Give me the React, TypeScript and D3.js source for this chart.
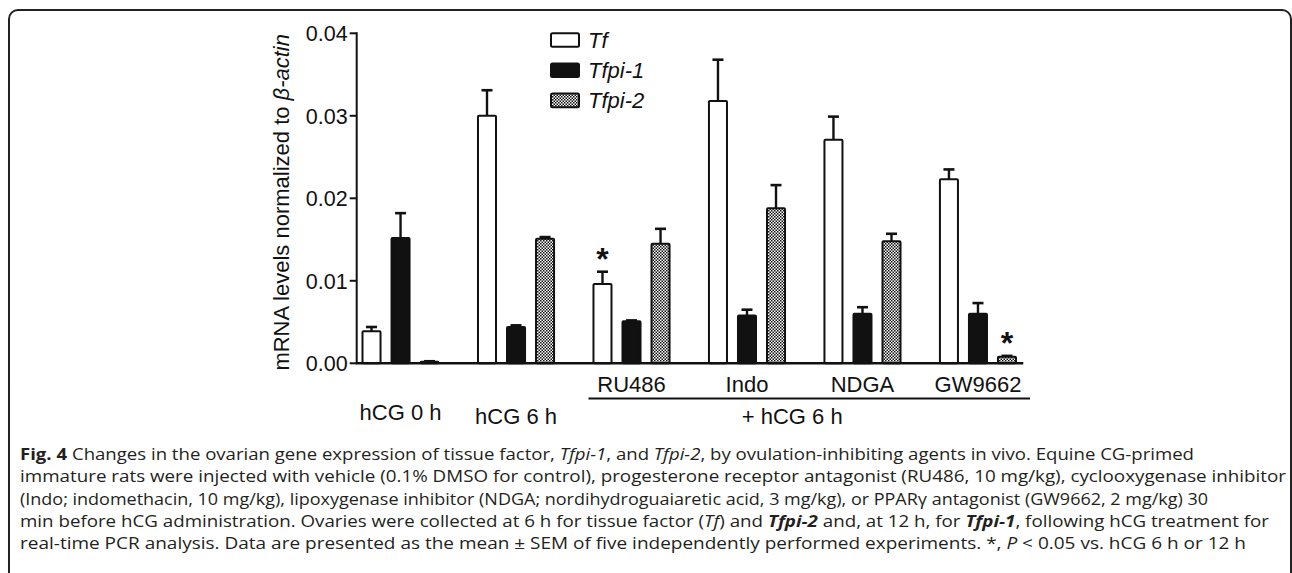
import React from "react";
import * as d3 from "d3";

// ---------- data ----------
const groups = ["hCG 0 h", "hCG 6 h", "RU486", "Indo", "NDGA", "GW9662"];
const treatedGroups = ["RU486", "Indo", "NDGA", "GW9662"];
const seriesNames = ["Tf", "Tfpi-1", "Tfpi-2"];

const tfMean = [0.0039, 0.03, 0.0096, 0.0318, 0.0271, 0.0223];
const tfSem = [0.0005, 0.0031, 0.0015, 0.005, 0.0028, 0.0012];
const tfpi1Mean = [0.0152, 0.0044, 0.0051, 0.0058, 0.006, 0.006];
const tfpi1Sem = [0.003, 0.0002, 0.0001, 0.0007, 0.0008, 0.0013];
const tfpi2Mean = [0.0002, 0.0151, 0.0145, 0.0188, 0.0148, 0.0008];
const tfpi2Sem = [0.00005, 0.0002, 0.0018, 0.0028, 0.0009, 0.0001];

const yTicks = [0, 0.01, 0.02, 0.03, 0.04];
const starMarks = [
  { group: "RU486", series: "Tf" },
  { group: "GW9662", series: "Tfpi-2" },
];

const FONT = "'Liberation Sans', Arial, Helvetica, sans-serif";
const CAP_FONT = "'Open Sans', 'Noto Sans', sans-serif";

export default function App() {
  const W = 1292;
  const H = 573;

  const y = d3.scaleLinear().domain([0, 0.04]).range([363.3, 33.3]);
  const x0 = d3
    .scaleBand<string>()
    .domain(groups)
    .range([361.5, 1017])
    .paddingInner(0.324)
    .paddingOuter(0);
  const x1 = d3
    .scaleBand<string>()
    .domain(seriesNames)
    .range([0, x0.bandwidth()])
    .paddingInner(0.31)
    .paddingOuter(0);

  const means: Record<string, number[]> = {
    Tf: tfMean,
    "Tfpi-1": tfpi1Mean,
    "Tfpi-2": tfpi2Mean,
  };
  const sems: Record<string, number[]> = {
    Tf: tfSem,
    "Tfpi-1": tfpi1Sem,
    "Tfpi-2": tfpi2Sem,
  };
  const fills: Record<string, string> = {
    Tf: "#ffffff",
    "Tfpi-1": "#111111",
    "Tfpi-2": "url(#checker)",
  };

  const axisX = 356.7;
  const axisEnd = 1023.3;
  const y0 = y(0);

  const bars: any[] = [];
  groups.forEach((g, gi) => {
    seriesNames.forEach((s) => {
      const m = means[s][gi];
      const e = sems[s][gi];
      const bx = (x0(g) as number) + (x1(s) as number);
      const bw = x1.bandwidth();
      const cx = bx + bw / 2;
      bars.push(
        <g key={g + s}>
          <line
            x1={cx}
            x2={cx}
            y1={y(m)}
            y2={y(m + e)}
            stroke="#111"
            strokeWidth={2.4}
          />
          <line
            x1={cx - 5.5}
            x2={cx + 5.5}
            y1={y(m + e)}
            y2={y(m + e)}
            stroke="#111"
            strokeWidth={2.6}
          />
          <rect
            x={bx + 1}
            y={y(m)}
            width={bw - 2}
            height={Math.max(0, y0 - y(m))}
            fill={fills[s]}
            stroke="#111"
            strokeWidth={2}
            strokeLinejoin="round"
            rx={1}
          />
        </g>
      );
    });
  });

  const stars = starMarks.map((st) => {
    const gi = groups.indexOf(st.group);
    const cx =
      (x0(st.group) as number) + (x1(st.series) as number) + x1.bandwidth() / 2;
    const top = y(means[st.series][gi] + sems[st.series][gi]);
    return (
      <text
        key={st.group + st.series}
        x={cx}
        y={top - 2}
        textAnchor="middle"
        fontFamily={FONT}
        fontWeight="bold"
        fontSize={32}
        fill="#111"
      >
        *
      </text>
    );
  });

  const legendRows = seriesNames.map((s, i) => {
    const cy = 40 + i * 30.2;
    return (
      <g key={s}>
        <rect
          x={551}
          y={cy - 6.8}
          width={28}
          height={13.6}
          fill={fills[s]}
          stroke="#111"
          strokeWidth={2}
          rx={1.5}
        />
        <text
          x={588}
          y={cy + 8}
          fontFamily={FONT}
          fontStyle="italic"
          fontSize={22}
          fill="#111"
        >
          {s}
        </text>
      </g>
    );
  });

  const treatedStart = (x0(treatedGroups[0]) as number) - 4;
  const treatedEnd =
    (x0(treatedGroups[treatedGroups.length - 1]) as number) + x0.bandwidth() + 13;

  const capLines = [
    { y: 460, end: 1194 },
    { y: 482, end: 1286 },
    { y: 505, end: 1208 },
    { y: 527, end: 1269 },
    { y: 549, end: 1246 },
  ];
  const capX = 20;

  return (
    <svg
      width={W}
      height={H}
      viewBox={`0 0 ${W} ${H}`}
      style={{ position: "absolute", left: 0, top: 0, background: "#fff" }}
    >
      <defs>
        <pattern
          id="checker"
          width={3}
          height={3}
          patternUnits="userSpaceOnUse"
        >
          <rect width={3} height={3} fill="#ffffff" />
          <rect width={1.5} height={1.5} fill="#111" />
          <rect x={1.5} y={1.5} width={1.5} height={1.5} fill="#111" />
        </pattern>
      </defs>
      <rect x={0} y={0} width={W} height={H} fill="#fff" />
      {/* frame */}
      <rect
        x={9}
        y={10}
        width={1282}
        height={620}
        rx={9}
        fill="none"
        stroke="#222"
        strokeWidth={2}
      />

      {/* y axis */}
      <line x1={axisX} x2={axisX} y1={y(0.04) - 1} y2={y0} stroke="#111" strokeWidth={2} />
      {yTicks.map((t) => (
        <g key={t}>
          <line x1={axisX - 7} x2={axisX} y1={y(t)} y2={y(t)} stroke="#111" strokeWidth={2} />
          <text
            x={axisX - 9}
            y={y(t)}
            dy="0.36em"
            textAnchor="end"
            fontFamily={FONT}
            fontSize={21.5}
            fill="#111"
          >
            {d3.format(".2f")(t)}
          </text>
        </g>
      ))}
      <text
        transform={`translate(289, ${(y(0) + y(0.04)) / 2 + 4}) rotate(-90)`}
        textAnchor="middle"
        fontFamily={FONT}
        fontSize={22}
        fill="#111"
      >
        mRNA levels normalized to <tspan fontStyle="italic">β-actin</tspan>
      </text>

      {bars}
      {/* x axis */}
      <line x1={axisX - 1} x2={axisEnd} y1={y0} y2={y0} stroke="#111" strokeWidth={2.4} />
      {stars}
      {legendRows}

      {/* category labels */}
      {groups.map((g, gi) => {
        const cx = (x0(g) as number) + x0.bandwidth() / 2;
        const treated = treatedGroups.includes(g);
        const by = treated ? 392 : gi === 0 ? 420 : 424;
        return (
          <text
            key={g}
            x={cx}
            y={by}
            textAnchor="middle"
            fontFamily={FONT}
            fontSize={22}
            fill="#111"
          >
            {g}
          </text>
        );
      })}
      <line
        x1={treatedStart}
        x2={treatedEnd}
        y1={398.5}
        y2={398.5}
        stroke="#111"
        strokeWidth={2}
      />
      <text
        x={(treatedStart + treatedEnd) / 2 - 17}
        y={424}
        textAnchor="middle"
        fontFamily={FONT}
        fontSize={22}
        fill="#111"
      >
        + hCG 6 h
      </text>

      {/* caption */}
      <g fontFamily={CAP_FONT} fontSize={16.5} fill="#231f20">
        <text x={capX} y={capLines[0].y} textLength={capLines[0].end - capX} lengthAdjust="spacingAndGlyphs">
          <tspan fontWeight="bold">Fig. 4</tspan> Changes in the ovarian gene expression of tissue factor,{" "}
          <tspan fontStyle="italic">Tfpi-1</tspan>, and <tspan fontStyle="italic">Tfpi-2</tspan>, by
          ovulation-inhibiting agents in vivo. Equine CG-primed
        </text>
        <text x={capX} y={capLines[1].y} textLength={capLines[1].end - capX} lengthAdjust="spacingAndGlyphs">
          immature rats were injected with vehicle (0.1% DMSO for control), progesterone receptor antagonist
          (RU486, 10 mg/kg), cyclooxygenase inhibitor
        </text>
        <text x={capX} y={capLines[2].y} textLength={capLines[2].end - capX} lengthAdjust="spacingAndGlyphs">
          (Indo; indomethacin, 10 mg/kg), lipoxygenase inhibitor (NDGA; nordihydroguaiaretic acid, 3 mg/kg), or
          PPARγ antagonist (GW9662, 2 mg/kg) 30
        </text>
        <text x={capX} y={capLines[3].y} textLength={capLines[3].end - capX} lengthAdjust="spacingAndGlyphs">
          min before hCG administration. Ovaries were collected at 6 h for tissue factor (
          <tspan fontStyle="italic">Tf</tspan>) and{" "}
          <tspan fontStyle="italic" fontWeight="bold">Tfpi-2</tspan> and, at 12 h, for{" "}
          <tspan fontStyle="italic" fontWeight="bold">Tfpi-1</tspan>, following hCG treatment for
        </text>
        <text x={capX} y={capLines[4].y} textLength={capLines[4].end - capX} lengthAdjust="spacingAndGlyphs">
          real-time PCR analysis. Data are presented as the mean ± SEM of five independently performed
          experiments. *, <tspan fontStyle="italic">P</tspan> &lt; 0.05 vs. hCG 6 h or 12 h
        </text>
      </g>
    </svg>
  );
}
